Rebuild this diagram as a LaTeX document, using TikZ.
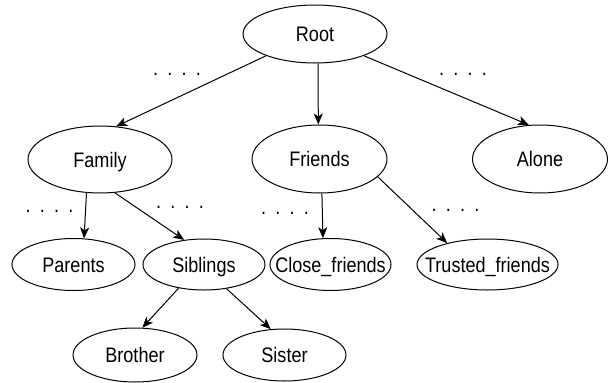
\documentclass[tikz,border=0pt]{standalone}
\usepackage{fontspec}
\setmainfont[FakeStretch=0.86]{Liberation Sans}
\usetikzlibrary{arrows.meta,positioning,shapes.geometric}
\newcommand{\dotrow}{.\hspace{9.3pt}.\hspace{9.3pt}.\hspace{9.3pt}.}
\newcommand{\lbl}[1]{\makebox[0pt]{#1}}

\begin{document}
\begin{tikzpicture}[x=1pt,y=-1pt,on grid,line width=1pt,
  >={Stealth[length=11pt,width=9pt,inset=3pt]},
  topic/.style={ellipse,draw,inner sep=0pt,text height=15pt,text depth=0pt,
    font=\fontsize{21}{25}\selectfont},
  etc/.style={anchor=base,inner sep=0pt,font=\fontsize{21}{25}\selectfont}]
   \useasboundingbox (0,0) rectangle (608,383);
   \node[topic,minimum width=144pt,minimum height=58pt] (Root) at (315,34) {\lbl{Root}};
   \node[topic,minimum width=144pt,minimum height=67pt] (Family) [below left=125.5pt and 215pt of Root] {\lbl{Family}};
   \node[topic,minimum width=135pt,minimum height=68pt] (Friends) [below right=125pt and 4.5pt of Root] {\lbl{Friends}};
   \node[topic,minimum width=135pt,minimum height=68pt] (Alone) [below right=125pt and 225pt of Root] {\lbl{Alone}};
   \node[topic,minimum width=123pt,minimum height=52pt] (Parents) [below left=105pt and 26.5pt of Family] {\lbl{Parents}};
   \node[topic,minimum width=122pt,minimum height=51pt] (Siblings) [right=130.5pt of Parents] {\lbl{Siblings}};
   \node[topic,minimum width=121pt,minimum height=52pt] (Close) [below right=105.5pt and 11pt of Friends] {\lbl{Close\_friends}};
   \node[topic,minimum width=141pt,minimum height=51pt] (Trusted) [right=157pt of Close] {\lbl{Trusted\_friends}};
   \node[topic,minimum width=124pt,minimum height=54pt] (Brother) [below left=90.5pt and 69pt of Siblings] {\lbl{Brother}};
   \node[topic,minimum width=123pt,minimum height=52pt] (Sister) [right=149.5pt of Brother] {\lbl{Sister}};

   % dotted gaps
   \node[etc] (d1) at (177,75) {\dotrow};
   \node[etc] (d2) at (463,75) {\dotrow};
   \node[etc] (d3) at (49.5,212) {\dotrow};
   \node[etc] (d4) at (180,208) {\dotrow};
   \node[etc] (d5) at (285,214) {\dotrow};
   \node[etc] (d6) at (455.5,211) {\dotrow};

    \path[->]
    (Root.204) edge (Family.64)
    (Root.276) edge (Friends.92)
    (Root.336) edge (Alone.108)
    (Family.248) edge (Parents.68)
    (Family.294) edge (Siblings.129)
    (Friends.274) edge (Close.106)
    (Friends.343) edge (Trusted.152)
    (Siblings.223) edge (Brother.75)
    (Siblings.313) edge (Sister.118);
\end{tikzpicture}
\end{document}
